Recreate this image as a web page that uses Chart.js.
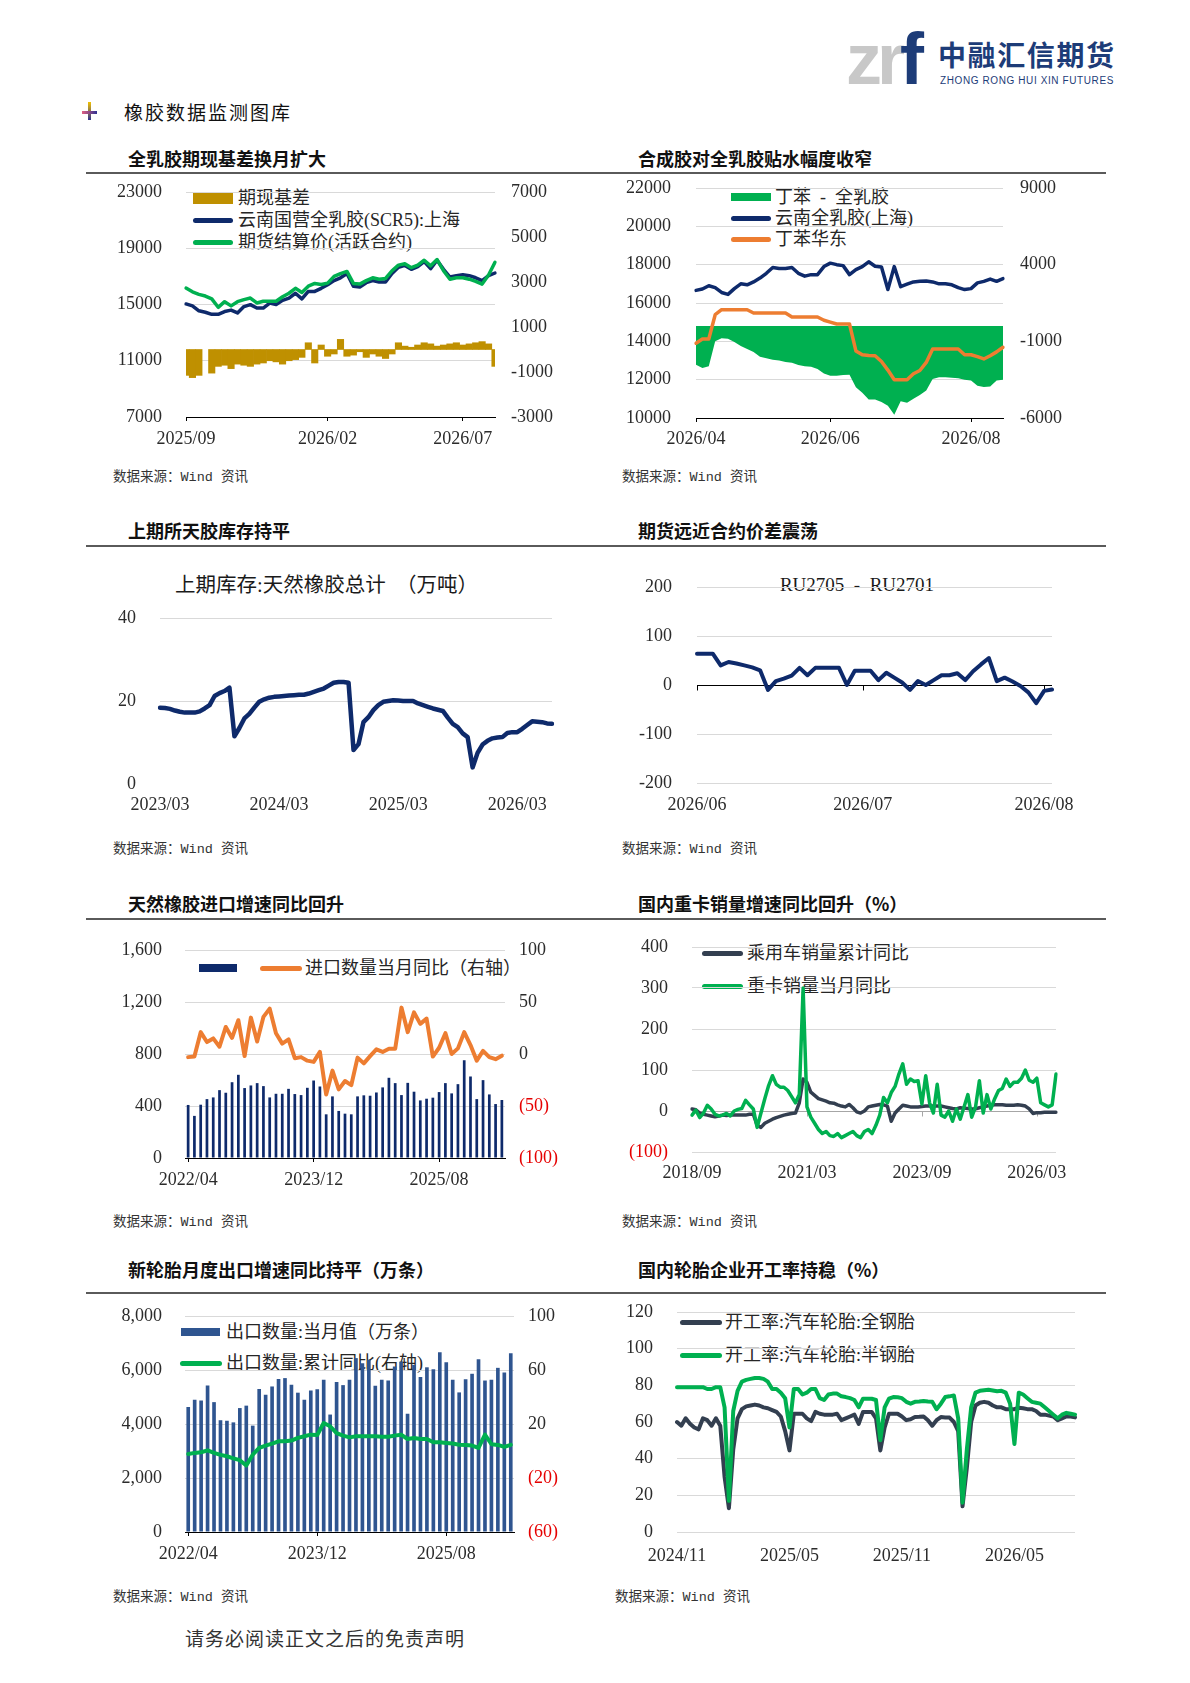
<!DOCTYPE html>
<html lang="zh-CN">
<head>
<meta charset="utf-8">
<title>橡胶数据监测图库</title>
<script src="https://cdn.jsdelivr.net/npm/chart.js@4.4.1/dist/chart.umd.min.js"></script>
<style>
html, body { margin: 0; padding: 0; background: #fff; }
body { position: relative; width: 1190px; height: 1683px; overflow: hidden; font-family: 'Noto Sans CJK SC', sans-serif; color: #222; }
.t { position: absolute; white-space: nowrap; line-height: 1; }
.title { font-size: 18px; font-weight: 700; color: #111; }
.rule { position: absolute; left: 86px; width: 1020px; height: 2px; background: #5a5a5a; }
.src { font-family: 'Liberation Mono', 'Noto Sans CJK SC', monospace; font-size: 13.5px; color: #333; }
.lg { font-family: 'Liberation Serif', 'Noto Sans CJK SC', serif; font-size: 18px; color: #262626; z-index: 1; }
.inner { font-family: 'Liberation Serif', 'Noto Sans CJK SC', serif; font-size: 19px; color: #1a1a1a; z-index: 1; }
.sw { position: absolute; z-index: 1; }
.ln { height: 5px; border-radius: 3px; }
canvas { position: absolute; z-index: 2; }
</style>
</head>
<body>

<!-- header -->
<div class="t" style="left:846px;top:23px;font:bold 72px 'Liberation Sans',sans-serif;line-height:72px;letter-spacing:-5px;"><span style="color:#c8c8c8">zr</span><span style="color:#1d3c78">f</span></div>
<div class="t" style="left:938px;top:40px;font-size:28px;font-weight:700;color:#1d3c78;letter-spacing:1.6px;">中融汇信期货</div>
<div class="t" style="left:940px;top:75px;font:10px 'Liberation Sans',sans-serif;color:#1d3c78;letter-spacing:0.6px;">ZHONG RONG HUI XIN FUTURES</div>

<div style="position:absolute;left:88px;top:102px;width:3px;height:18px;background:linear-gradient(#f2c200,#2e3192);"></div>
<div style="position:absolute;left:82px;top:111px;width:15px;height:3px;background:linear-gradient(90deg,#e06080,#2e3192);"></div>
<div class="t" style="left:124px;top:102px;font-size:19px;letter-spacing:2px;color:#111;">橡胶数据监测图库</div>

<!-- row titles and rules -->
<div class="t title" style="left:128px;top:149px;">全乳胶期现基差换月扩大</div>
<div class="t title" style="left:638px;top:149px;">合成胶对全乳胶贴水幅度收窄</div>
<div class="rule" style="top:172px;"></div>
<div class="t title" style="left:128px;top:521px;">上期所天胶库存持平</div>
<div class="t title" style="left:638px;top:521px;">期货远近合约价差震荡</div>
<div class="rule" style="top:545px;"></div>
<div class="t title" style="left:128px;top:894px;">天然橡胶进口增速同比回升</div>
<div class="t title" style="left:638px;top:894px;">国内重卡销量增速同比回升（%）</div>
<div class="rule" style="top:918px;"></div>
<div class="t title" style="left:128px;top:1260px;">新轮胎月度出口增速同比持平（万条）</div>
<div class="t title" style="left:638px;top:1260px;">国内轮胎企业开工率持稳（%）</div>
<div class="rule" style="top:1292px;"></div>

<!-- sources -->
<div class="t src" style="left:113px;top:471px;">数据来源：Wind 资讯</div>
<div class="t src" style="left:622px;top:471px;">数据来源：Wind 资讯</div>
<div class="t src" style="left:113px;top:843px;">数据来源：Wind 资讯</div>
<div class="t src" style="left:622px;top:843px;">数据来源：Wind 资讯</div>
<div class="t src" style="left:113px;top:1216px;">数据来源：Wind 资讯</div>
<div class="t src" style="left:622px;top:1216px;">数据来源：Wind 资讯</div>
<div class="t src" style="left:113px;top:1591px;">数据来源：Wind 资讯</div>
<div class="t src" style="left:615px;top:1591px;">数据来源：Wind 资讯</div>

<div class="t" style="left:185px;top:1628px;font-size:19px;letter-spacing:1px;color:#333;">请务必阅读正文之后的免责声明</div>

<!-- legends (chart 1) -->
<div class="sw" style="left:193px;top:192px;width:40px;height:12px;background:#BF9000;"></div>
<div class="t lg" style="left:238px;top:189px;">期现基差</div>
<div class="sw ln" style="left:193px;top:218px;width:40px;background:#0E2A6B;"></div>
<div class="t lg" style="left:238px;top:211px;">云南国营全乳胶(SCR5):上海</div>
<div class="sw ln" style="left:193px;top:240px;width:40px;background:#00B050;"></div>
<div class="t lg" style="left:238px;top:233px;">期货结算价(活跃合约)</div>

<!-- chart 2 -->
<div class="sw" style="left:731px;top:193px;width:40px;height:8px;background:#00B050;"></div>
<div class="t lg" style="left:775px;top:188px;">丁苯&nbsp; -&nbsp; 全乳胶</div>
<div class="sw ln" style="left:731px;top:216px;width:40px;background:#0E2A6B;"></div>
<div class="t lg" style="left:775px;top:209px;">云南全乳胶(上海)</div>
<div class="sw ln" style="left:731px;top:237px;width:40px;background:#ED7D31;"></div>
<div class="t lg" style="left:775px;top:230px;">丁苯华东</div>

<!-- chart 3 / 4 inner titles -->
<div class="t inner" style="left:175px;top:575px;font-size:20.5px;">上期库存:天然橡胶总计　（万吨）</div>
<div class="t inner" style="left:737px;top:575px;width:240px;text-align:center;">RU2705&nbsp; -&nbsp; RU2701</div>

<!-- chart 5 -->
<div class="sw" style="left:199px;top:964px;width:38px;height:8px;background:#0E2A6B;"></div>
<div class="sw ln" style="left:260px;top:966px;width:42px;background:#ED7D31;"></div>
<div class="t lg" style="left:305px;top:959px;">进口数量当月同比（右轴）</div>

<!-- chart 6 -->
<div class="sw ln" style="left:702px;top:951px;width:41px;background:#333F50;"></div>
<div class="t lg" style="left:747px;top:944px;">乘用车销量累计同比</div>
<div class="sw ln" style="left:702px;top:984px;width:41px;background:#00B050;"></div>
<div class="t lg" style="left:747px;top:977px;">重卡销量当月同比</div>

<!-- chart 7 -->
<div class="sw" style="left:181px;top:1328px;width:39px;height:8px;background:#2F5590;"></div>
<div class="t lg" style="left:226px;top:1323px;">出口数量:当月值（万条）</div>
<div class="sw ln" style="left:180px;top:1361px;width:42px;background:#00B050;"></div>
<div class="t lg" style="left:226px;top:1354px;">出口数量:累计同比(右轴)</div>

<!-- chart 8 -->
<div class="sw ln" style="left:680px;top:1320px;width:42px;background:#333F50;"></div>
<div class="t lg" style="left:725px;top:1313px;">开工率:汽车轮胎:全钢胎</div>
<div class="sw ln" style="left:680px;top:1353px;width:42px;background:#00B050;"></div>
<div class="t lg" style="left:725px;top:1346px;">开工率:汽车轮胎:半钢胎</div>

<script>
// ---- data ----

// 1 全乳胶期现基差 (weekly from 2025/09)
const c1TickAt = [0, 22, 43];
const c1TickText = ['2025/09', '2026/02', '2026/07'];
const c1Spot = [15040,14900,14550,14450,14300,14300,14500,14600,14400,14850,14990,14750,14750,15100,15000,15300,15460,15800,15400,15930,15930,16150,16400,16700,16900,17200,16300,16250,16550,16700,16600,16600,17200,17650,17780,17500,17700,18050,17550,18150,17500,16950,17050,17120,17050,16900,16700,17050,17240];
const c1Futures = [16170,15900,15720,15600,15400,14800,15200,14900,15200,15350,15460,15110,15230,15230,15230,15550,15800,16150,15850,16300,16500,16420,16520,17000,17200,17350,16500,16450,16700,16900,16800,16850,17400,17800,17900,17620,17800,18150,17750,18200,17400,16800,16900,16900,16800,16650,16450,17100,18000];
const c1Basis = [-1150,-1250,-1150,null,-1050,-750,-700,-850,-650,-700,-750,-650,-600,-500,-550,-650,-500,-450,-350,300,-600,200,-300,-200,450,-300,-250,-100,-350,-200,-300,-400,-200,300,150,100,200,300,250,150,200,250,300,200,250,300,350,250,-750];

// 2 合成胶 vs 全乳胶 (every second trading day from 2026/04)
const c2TickAt = [0, 21, 43];
const c2TickText = ['2026/04', '2026/06', '2026/08'];
const c2Yunnan = [16660,16730,16900,16800,16550,16450,16750,17000,16950,17100,17300,17550,17850,17800,17800,17850,17550,17400,17480,17480,17900,18080,18000,17950,17480,17740,17900,18150,17920,17880,16700,17900,16850,16980,17100,17130,17150,17100,17000,17000,16950,16800,16700,16750,17050,17130,17250,17130,17270];
const c2Sbr = [13900,14120,14120,15390,15650,15650,15650,15650,15650,15480,15480,15480,15480,15480,15480,15270,15270,15270,15270,15270,15100,15000,14905,14905,14905,13500,13300,13260,13250,12950,12500,12000,12000,12000,12310,12480,12900,13600,13600,13600,13600,13600,13300,13300,13200,13080,13250,13450,13690];
const c2Spread = [-2520,-2740,-2630,-1000,-800,-830,-1050,-1300,-1500,-1700,-2000,-2100,-2200,-2250,-2350,-2400,-2550,-2630,-2660,-2800,-3100,-3250,-3250,-3200,-3180,-4000,-4350,-4800,-4800,-4950,-5200,-5780,-4900,-5000,-4750,-4500,-4200,-3450,-3350,-3350,-3380,-3400,-3500,-3550,-3900,-3980,-3950,-3550,-3500];

// 3 上期库存 (half-monthly from 2023/03)
const c3TickAt = [0, 24, 48, 72];
const c3TickText = ['2023/03', '2024/03', '2025/03', '2026/03'];
const c3Stock = [18.4,18.3,18.1,17.7,17.4,17.2,17.2,17.2,17.5,18.2,19.0,21.2,21.9,22.4,23.2,11.5,13.5,15.8,16.9,18.4,19.8,20.4,20.8,21.0,21.1,21.2,21.3,21.4,21.5,21.5,21.8,22.2,22.6,23.0,23.7,24.4,24.6,24.6,24.4,8.2,9.6,14.9,16.1,17.8,19.0,19.8,20.0,20.2,20.1,20.0,20.0,20.0,19.4,19.0,18.6,18.2,17.9,17.6,16.0,14.5,13.7,12.2,11.3,4.0,7.5,9.5,10.4,11.0,11.2,11.3,12.3,12.5,12.5,13.3,14.2,15.1,15.0,14.9,14.6,14.5];

// 4 RU2705 - RU2701 (trading days from 2026/06/01)
const c4TickAt = [0, 21, 44];
const c4TickText = ['2026/06', '2026/07', '2026/08'];
const c4Spread = [64,64,64,40,47,44,40,36,30,-10,8,13,19,35,20,35,35,35,35,0,29,29,29,10,25,15,5,-10,8,0,10,20,20,24,10,28,42,55,8,15,7,-2,-15,-37,-12,-9];

// 5 天然橡胶进口 (monthly from 2022/04)
const c5TickAt = [0, 20, 40];
const c5TickText = ['2022/04', '2023/12', '2025/08'];
const c5Qty = [408,324,410,453,466,522,502,583,640,538,558,576,553,466,494,494,532,492,484,540,596,550,336,474,362,341,336,474,482,479,504,543,617,576,484,578,510,443,456,464,507,576,497,568,752,627,453,599,489,415,446];
const c5Yoy = [-3,-2.5,21,11.5,15,7,26,15.5,32.5,-2,35,12,35.7,43.6,20,10,14,-4,-3,-6.4,-7.6,2,-39,-16,-34,-26,-30,-3.5,-9,-2,4.5,2,5,5,44.6,21,40,29,34,-2.5,6,20,0,5.4,21,8.6,-6.4,3,-3,-5,-1.6];

// 6 重卡 / 乘用车 (monthly from 2018/09)
const c6TickAt = [0, 30, 60, 90];
const c6TickText = ['2018/09', '2021/03', '2023/09', '2026/03'];
const c6Car = [5,3,-5,-8,-10,-12,-14,-12,-10,-11,-10,-10,-10,-10,-10,-8,-8,-35,-40,-30,-25,-20,-16,-13,-10,-8,-6,-5,20,78,70,46,38,30,27,24,20,19,15,12,10,16,8,-2,-5,0,10,12,14,16,15,12,-25,-5,5,14,12,10,10,10,11,12,12,12,12,12,10,8,6,5,8,7,6,5,5,8,10,12,14,15,15,15,14,14,14,15,14,12,5,-6,-4,-4,-3,-3,-3,-3];
const c6Truck = [-10,2,-16,-5,14,5,-8,-12,-10,-6,-12,0,4,6,26,15,5,-40,-5,30,62,86,65,58,58,50,35,20,40,300,10,-15,-30,-45,-55,-50,-60,-62,-55,-65,-60,-55,-50,-60,-65,-50,-45,-55,-35,-10,33,20,45,60,90,115,65,78,72,74,17,86,20,-5,65,-10,-15,0,-25,5,-20,10,40,-15,10,74,-5,40,5,30,50,55,78,60,70,70,80,100,75,70,80,20,15,10,15,90];

// 7 新轮胎出口 (monthly from 2022/04)
const c7TickAt = [0, 20, 40];
const c7TickText = ['2022/04', '2023/12', '2025/08'];
const c7Qty = [4630,4900,4870,5430,4810,4140,4120,4060,4590,4680,3940,5300,5080,5390,5670,5700,5450,5160,4900,5240,5290,5640,4350,5560,5440,5640,6440,6250,6380,5420,5640,5610,6130,6310,4380,6190,5740,6100,6030,6660,6290,5640,5170,5660,5860,6400,5610,5640,6080,5910,6620];
const c7Yoy = [-2.2,-1.4,-0.9,0.5,-1.4,-2.9,-3.9,-5.4,-6.8,-10.8,-2.7,2.3,4,5.5,7.2,7.2,7.7,9.7,10.9,12.1,11.9,20.7,18.3,13.3,11.4,10.1,10.9,10.9,10.9,10.9,10.6,10.6,11.4,12.1,8.9,9.7,8.9,8.9,6.5,6.5,6,5.5,4.7,4.5,4,2.3,12.1,5,4.5,3,4.5];

// 8 轮胎开工率 (weekly from 2024/11)
const c8TickAt = [0, 26, 52, 78];
const c8TickText = ['2024/11', '2025/05', '2025/11', '2026/05'];
const c8AllSteel = [60,58,62,59,57,56,62,61,58,62,58,30,13,45,62,67,68.5,69,69.5,69,68,67.5,66.5,65.5,63,55,44.5,64.5,64.5,64.5,62,60.5,65.5,64.5,64,64,64,64.5,61,62,63,64,59,65.5,65.5,65.5,62,44.5,57,64.5,64.5,64.5,63,61,61.5,62.7,62.8,63,61,58,61,62.7,62.5,62.4,60,55,14,35,60,69,70.5,71,70.5,69,68,68,67,67,67,67.8,67.5,67,67,66,64,64,63.5,63,61,62,63,63,62.5];
const c8SemiSteel = [79,79,79,79,79,79,79,78,78,79,79,68,17,66,77,82,83,83.5,84,84,83.5,82,78,78,76,73,57,78,78,75,76,78,78,73,72,75,75.5,75.5,74,73.6,73,72,68,72.7,72.7,72.7,72,50,68,72.7,73.6,73.5,73,71,70,71,71.2,71.5,71.2,71,67,70,73.6,74,74.5,62,16,45,68,76,77,77.3,77.6,77.2,76.8,77,76,70,48,76,75,73,71,70.5,70,68,66,64,62,64,65,64.5,64];

// ---- colours / fonts ----
const SERIF = "'Liberation Serif','Noto Sans CJK SC',serif";
const TICK_FONT = { family: SERIF, size: 18 };
const INK = '#2b2b2b';
const GRID = '#D9D9D9';
const RED = '#E60000';
const NAVY = '#0E2A6B';
const GREEN = '#00B050';
const ORANGE = '#ED7D31';
const SLATE = '#333F50';
const GOLD = '#BF9000';
const STEEL = '#2F5590';
const CLEAR = 'rgba(0,0,0,0)';

// ---- category labels ----
function pad(n) { return String(n).padStart(2, '0'); }
function ymd(t) { return t.getUTCFullYear() + '/' + pad(t.getUTCMonth() + 1) + '/' + pad(t.getUTCDate()); }
function months(y, m, n) {
  const out = [];
  for (let i = 0; i < n; i++) { const k = m - 1 + i; out.push((y + Math.floor(k / 12)) + '/' + pad(k % 12 + 1)); }
  return out;
}
function weeks(y, m, d, n) {
  const out = [], t = new Date(Date.UTC(y, m - 1, d));
  for (let i = 0; i < n; i++) { out.push(ymd(t)); t.setUTCDate(t.getUTCDate() + 7); }
  return out;
}
function halfMonths(y, m, n) {
  const out = [];
  months(y, m, Math.ceil(n / 2)).forEach(s => { out.push(s + '/01'); out.push(s + '/16'); });
  return out.slice(0, n);
}
function tradingDays(y, m, d, n, every, holidays) {
  const out = [], t = new Date(Date.UTC(y, m - 1, d));
  let k = 0;
  while (out.length < n) {
    const wd = t.getUTCDay(), s = ymd(t);
    if (wd !== 0 && wd !== 6 && !holidays.includes(s)) { if (k % every === 0) out.push(s); k++; }
    t.setUTCDate(t.getUTCDate() + 1);
  }
  return out;
}

// ---- helpers ----
function place(box) {
  const c = document.createElement('canvas');
  c.width = box.w; c.height = box.h;
  c.style.left = box.l + 'px'; c.style.top = box.t + 'px';
  c.style.width = box.w + 'px'; c.style.height = box.h + 'px';
  document.body.appendChild(c);
  return c;
}

function baseOptions(box, plot, hasRight) {
  return {
    responsive: false, animation: false, events: [],
    layout: { padding: { top: plot.t - box.t, bottom: 0, left: 0, right: hasRight ? 0 : box.l + box.w - plot.r } },
    plugins: { legend: { display: false }, tooltip: { enabled: false } },
    elements: { point: { radius: 0 }, line: { tension: 0, borderJoinStyle: 'round', borderCapStyle: 'round' } }
  };
}

function xAxis(box, plot, at, text, o) {
  return {
    type: 'category', offset: !!o.offset,
    grid: { display: true, drawOnChartArea: false, drawTicks: !!o.ticks, tickLength: 4, offset: false,
            tickColor: c => at.includes(c.index) ? '#000' : CLEAR },
    border: { display: !!o.border, color: '#000', width: 1 },
    ticks: { autoSkip: false, maxRotation: 0, minRotation: 0, padding: o.pad, font: TICK_FONT, color: INK,
             callback: (v, i) => { const k = at.indexOf(i); return k >= 0 ? text[k] : ''; } },
    afterFit: s => { s.height = box.t + box.h - plot.b; }
  };
}

// the gap between label and plot is an invisible tick mark, so it does not add vertical padding
function yAxis(side, width, min, max, step, gap, fmt, grid, color) {
  return {
    position: side, min: min, max: max,
    grid: { display: true, drawOnChartArea: !!grid, color: grid || GRID, lineWidth: 1,
            drawTicks: true, tickLength: gap, tickColor: CLEAR },
    border: { display: false },
    ticks: { stepSize: step, padding: 0, font: TICK_FONT, color: color || INK, callback: fmt },
    afterFit: s => { s.width = width; }
  };
}

const plain = v => String(v);
const comma = v => v.toLocaleString('en-US');
const paren = v => v < 0 ? '(' + Math.abs(v) + ')' : String(v);
const redNeg = c => c.tick.value < 0 ? RED : INK;

// horizontal axis line through zero with tick marks (charts 4 and 6)
const zeroAxis = {
  id: 'zeroAxis',
  beforeDatasetsDraw(chart, args, opts) {
    const { ctx, chartArea, scales } = chart;
    const py = Math.round(scales.y.getPixelForValue(0)) + 0.5;
    ctx.save();
    ctx.strokeStyle = opts.color;
    ctx.lineWidth = 1;
    ctx.beginPath();
    ctx.moveTo(chartArea.left, py);
    ctx.lineTo(chartArea.right, py);
    opts.at.forEach(i => {
      const px = Math.round(scales.x.getPixelForValue(i)) + 0.5;
      ctx.moveTo(px, py);
      ctx.lineTo(px, py + 5);
    });
    ctx.stroke();
    ctx.restore();
  }
};

function line(label, data, color, width, order, axis) {
  return { type: 'line', label: label, data: data, borderColor: color, backgroundColor: color,
           borderWidth: width, order: order, yAxisID: axis || 'y', pointRadius: 0, fill: false };
}

// ---- chart 1 ----
(function () {
  const box = { l: 95, t: 175, w: 470, h: 275 }, plot = { l: 186, t: 192, r: 495, b: 417 };
  const opt = baseOptions(box, plot, true);
  opt.scales = {
    x: xAxis(box, plot, c1TickAt, c1TickText, { offset: false, ticks: true, border: true, pad: 7 }),
    y: yAxis('left', plot.l - box.l, 7000, 23000, 4000, 24, plain, GRID),
    y1: yAxis('right', box.l + box.w - plot.r, -3000, 7000, 2000, 16, plain, null)
  };
  new Chart(place(box), {
    type: 'line',
    data: {
      labels: weeks(2025, 9, 1, c1Spot.length),
      datasets: [
        line('期货结算价(活跃合约)', c1Futures, GREEN, 3.5, 1),
        line('云南国营全乳胶(SCR5):上海', c1Spot, NAVY, 3.5, 2),
        { type: 'bar', label: '期现基差', data: c1Basis, backgroundColor: GOLD, borderWidth: 0,
          barPercentage: 1, categoryPercentage: 1, order: 3, yAxisID: 'y1' }
      ]
    },
    options: opt
  });
})();

// ---- chart 2 ----
(function () {
  const box = { l: 590, t: 170, w: 490, h: 285 }, plot = { l: 696, t: 188, r: 1003, b: 418 };
  const opt = baseOptions(box, plot, true);
  opt.scales = {
    x: xAxis(box, plot, c2TickAt, c2TickText, { offset: false, ticks: true, border: true, pad: 6 }),
    y: yAxis('left', plot.l - box.l, 10000, 22000, 2000, 25, plain, GRID),
    y1: yAxis('right', box.l + box.w - plot.r, -6000, 9000, 5000, 17, plain, null)
  };
  new Chart(place(box), {
    type: 'line',
    data: {
      labels: tradingDays(2026, 4, 1, c2Yunnan.length, 2, ['2026/04/06', '2026/05/01', '2026/05/04', '2026/05/05', '2026/06/19']),
      datasets: [
        line('云南全乳胶(上海)', c2Yunnan, NAVY, 3.5, 1),
        line('丁苯华东', c2Sbr, ORANGE, 3.5, 2),
        { type: 'line', label: '丁苯 - 全乳胶', data: c2Spread, yAxisID: 'y1', order: 3, pointRadius: 0,
          borderWidth: 0, borderColor: GREEN, backgroundColor: GREEN, fill: 'origin' }
      ]
    },
    options: opt
  });
})();

// ---- chart 3 ----
(function () {
  const box = { l: 95, t: 600, w: 480, h: 225 }, plot = { l: 160, t: 618, r: 552, b: 784 };
  const opt = baseOptions(box, plot, false);
  const y = yAxis('left', plot.l - box.l, 0, 40, 20, 24, plain, GRID);
  y.grid.color = c => c.tick.value === 0 ? CLEAR : GRID;
  opt.scales = {
    x: xAxis(box, plot, c3TickAt, c3TickText, { offset: false, ticks: false, border: false, pad: 10 }),
    y: y
  };
  new Chart(place(box), {
    type: 'line',
    data: {
      labels: halfMonths(2023, 3, c3Stock.length),
      datasets: [line('上期库存:天然橡胶总计', c3Stock, NAVY, 4.5, 1)]
    },
    options: opt
  });
})();

// ---- chart 4 ----
(function () {
  const box = { l: 600, t: 570, w: 480, h: 255 }, plot = { l: 697, t: 587, r: 1052, b: 783 };
  const opt = baseOptions(box, plot, false);
  const y = yAxis('left', plot.l - box.l, -200, 200, 100, 25, plain, GRID);
  y.grid.color = c => c.tick.value === 0 ? CLEAR : GRID;
  opt.scales = {
    x: xAxis(box, plot, c4TickAt, c4TickText, { offset: false, ticks: false, border: false, pad: 11 }),
    y: y
  };
  opt.plugins.zeroAxis = { color: '#000', at: c4TickAt };
  new Chart(place(box), {
    type: 'line',
    data: {
      labels: tradingDays(2026, 6, 1, c4Spread.length, 1, ['2026/06/19']),
      datasets: [line('RU2705 - RU2701', c4Spread, NAVY, 4, 1)]
    },
    options: opt,
    plugins: [zeroAxis]
  });
})();

// ---- chart 5 ----
(function () {
  const box = { l: 95, t: 935, w: 470, h: 260 }, plot = { l: 185, t: 950, r: 505, b: 1158 };
  const opt = baseOptions(box, plot, true);
  opt.scales = {
    x: xAxis(box, plot, c5TickAt, c5TickText, { offset: true, ticks: true, border: true, pad: 7 }),
    y: yAxis('left', plot.l - box.l, 0, 1600, 400, 23, comma, GRID),
    y1: yAxis('right', box.l + box.w - plot.r, -100, 100, 50, 14, paren, null, redNeg)
  };
  new Chart(place(box), {
    type: 'bar',
    data: {
      labels: months(2022, 4, c5Qty.length),
      datasets: [
        line('进口数量当月同比（右轴）', c5Yoy, ORANGE, 4, 1, 'y1'),
        { type: 'bar', label: '进口数量', data: c5Qty, backgroundColor: NAVY, borderWidth: 0,
          barPercentage: 0.9, categoryPercentage: 0.48, order: 2, yAxisID: 'y' }
      ]
    },
    options: opt
  });
})();

// ---- chart 6 ----
(function () {
  const box = { l: 600, t: 930, w: 480, h: 265 }, plot = { l: 692, t: 947, r: 1056, b: 1152 };
  const opt = baseOptions(box, plot, false);
  opt.scales = {
    x: xAxis(box, plot, c6TickAt, c6TickText, { offset: false, ticks: false, border: false, pad: 10 }),
    y: yAxis('left', plot.l - box.l, -100, 400, 100, 24, paren, GRID, redNeg)
  };
  opt.plugins.zeroAxis = { color: '#A6A6A6', at: c6TickAt };
  new Chart(place(box), {
    type: 'line',
    data: {
      labels: months(2018, 9, c6Truck.length),
      datasets: [
        line('重卡销量当月同比', c6Truck, GREEN, 3.5, 1),
        line('乘用车销量累计同比', c6Car, SLATE, 3.5, 2)
      ]
    },
    options: opt,
    plugins: [zeroAxis]
  });
})();

// ---- chart 7 ----
(function () {
  const box = { l: 95, t: 1300, w: 480, h: 275 }, plot = { l: 185, t: 1316, r: 514, b: 1532 };
  const opt = baseOptions(box, plot, true);
  opt.scales = {
    x: xAxis(box, plot, c7TickAt, c7TickText, { offset: true, ticks: true, border: true, pad: 7 }),
    y: yAxis('left', plot.l - box.l, 0, 8000, 2000, 23, comma, GRID),
    y1: yAxis('right', box.l + box.w - plot.r, -60, 100, 40, 14, paren, null, redNeg)
  };
  new Chart(place(box), {
    type: 'bar',
    data: {
      labels: months(2022, 4, c7Qty.length),
      datasets: [
        line('出口数量:累计同比(右轴)', c7Yoy, GREEN, 4, 1, 'y1'),
        { type: 'bar', label: '出口数量:当月值（万条）', data: c7Qty, backgroundColor: STEEL, borderWidth: 0,
          barPercentage: 0.9, categoryPercentage: 0.63, order: 2, yAxisID: 'y' }
      ]
    },
    options: opt
  });
})();

// ---- chart 8 ----
(function () {
  const box = { l: 600, t: 1295, w: 500, h: 280 }, plot = { l: 677, t: 1312, r: 1075, b: 1532 };
  const opt = baseOptions(box, plot, false);
  opt.scales = {
    x: xAxis(box, plot, c8TickAt, c8TickText, { offset: false, ticks: false, border: false, pad: 13 }),
    y: yAxis('left', plot.l - box.l, 0, 120, 20, 24, plain, GRID)
  };
  new Chart(place(box), {
    type: 'line',
    data: {
      labels: weeks(2024, 11, 1, c8AllSteel.length),
      datasets: [
        line('开工率:汽车轮胎:半钢胎', c8SemiSteel, GREEN, 4, 1),
        line('开工率:汽车轮胎:全钢胎', c8AllSteel, SLATE, 4, 2)
      ]
    },
    options: opt
  });
})();
</script>
</body>
</html>
